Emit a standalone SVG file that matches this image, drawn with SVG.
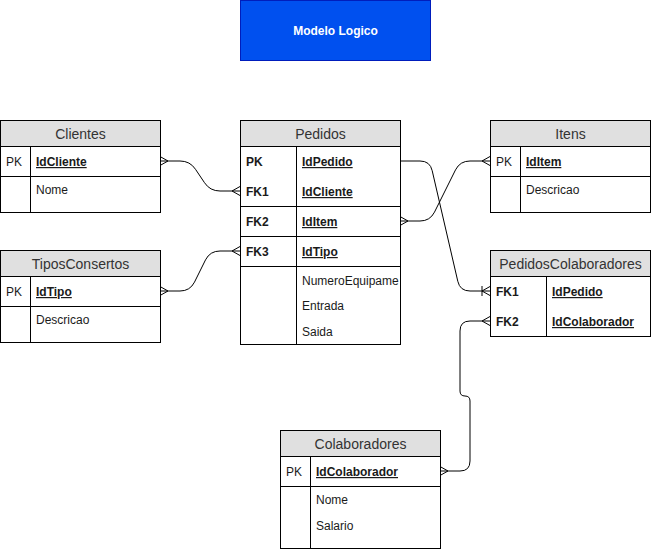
<svg xmlns="http://www.w3.org/2000/svg" width="651" height="549" viewBox="0 0 651 549">
<style>
.box{fill:#ffffff;stroke:#000000;stroke-width:1}
.hdr{fill:#e0e0e0;stroke:#000000;stroke-width:1}
.ln{stroke:#000000;stroke-width:1;fill:none}
.ht{font-family:"Liberation Sans",Arial,Helvetica,sans-serif;font-size:14px;fill:#333333;text-anchor:middle}
.t{font-family:"Liberation Sans",Arial,Helvetica,sans-serif;font-size:12px;fill:#1a1a1a}
.b{font-weight:bold}
.u{font-weight:bold;text-decoration:underline}
.edge{stroke:#000000;stroke-width:1;fill:none}
</style>
<defs>
<marker id="many" viewBox="-10 -10 20 20" markerWidth="20" markerHeight="20" refX="0" refY="0" markerUnits="userSpaceOnUse" orient="auto-start-reverse">
<path d="M0,-4.5 L-8,0 L0,4.5" fill="none" stroke="#000000" stroke-width="1"/>
</marker>
<marker id="oneMany" viewBox="-12 -10 24 20" markerWidth="24" markerHeight="20" refX="0" refY="0" markerUnits="userSpaceOnUse" orient="auto-start-reverse">
<path d="M0,-4.5 L-8,0 L0,4.5 M-8,-5 L-8,5" fill="none" stroke="#000000" stroke-width="1"/>
</marker>
<clipPath id="pedClip"><rect x="240" y="120" width="159.5" height="224"/></clipPath>
</defs>

<g id="titulo">
<rect x="240.5" y="0.5" width="190" height="60" fill="#0050ef" stroke="#001dbc"/>
<text x="335.5" y="35" font-family="'Liberation Sans',Arial,Helvetica,sans-serif" font-size="12" font-weight="bold" fill="#ffffff" text-anchor="middle">Modelo Logico</text>
</g>

<g id="connectors">
<path class="edge" d="M160,161 L180,161 Q190,161 195.5,169.3 L204.5,182.7 Q210,191 220,191 L240,191" marker-start="url(#many)" marker-end="url(#many)"/>
<path class="edge" d="M160,291 L180,291 Q190,291 194.5,282.1 L205.5,259.9 Q210,251 220,251 L240,251" marker-start="url(#many)" marker-end="url(#many)"/>
<path class="edge" d="M400,221 L420,221 Q430,221 434.5,212.1 L455.5,169.9 Q460,161 470,161 L490,161" marker-start="url(#many)" marker-end="url(#many)"/>
<path class="edge" d="M400,161 L420,161 Q430,161 432.2,170.7 L457.8,281.3 Q460,291 470,291 L490,291" marker-end="url(#oneMany)"/>
<path class="edge" d="M440,471 L460,471 Q470,471 470,461 L470,401 Q470,396 465,396 Q460,396 460,391 L460,331 Q460,321 470,321 L490,321" marker-start="url(#many)" marker-end="url(#many)"/>
</g>

<g id="clientes">
<rect class="box" x="0.5" y="120.5" width="160" height="92"/>
<rect class="hdr" x="0.5" y="120.5" width="160" height="26"/>
<text class="ht" x="80.5" y="138.5">Clientes</text>
<line class="ln" x1="30.5" y1="146.5" x2="30.5" y2="212.5"/>
<line class="ln" x1="0.5" y1="176.5" x2="160.5" y2="176.5"/>
<text class="t" x="6" y="166">PK</text>
<text class="t u" x="36" y="166">IdCliente</text>
<text class="t" x="36" y="194">Nome</text>
</g>

<g id="tiposconsertos">
<rect class="box" x="0.5" y="250.5" width="160" height="92"/>
<rect class="hdr" x="0.5" y="250.5" width="160" height="26"/>
<text class="ht" x="80.5" y="268.5">TiposConsertos</text>
<line class="ln" x1="30.5" y1="276.5" x2="30.5" y2="342.5"/>
<line class="ln" x1="0.5" y1="306.5" x2="160.5" y2="306.5"/>
<text class="t" x="6" y="296">PK</text>
<text class="t u" x="36" y="296">IdTipo</text>
<text class="t" x="36" y="324">Descricao</text>
</g>

<g id="pedidos">
<rect class="box" x="240.5" y="120.5" width="160" height="224"/>
<rect class="hdr" x="240.5" y="120.5" width="160" height="26"/>
<text class="ht" x="320.5" y="138.5">Pedidos</text>
<line class="ln" x1="296.5" y1="146.5" x2="296.5" y2="344.5"/>
<line class="ln" x1="240.5" y1="206.5" x2="400.5" y2="206.5"/>
<line class="ln" x1="240.5" y1="236.5" x2="400.5" y2="236.5"/>
<line class="ln" x1="240.5" y1="266.5" x2="400.5" y2="266.5"/>
<text class="t b" x="246" y="166">PK</text>
<text class="t u" x="302" y="166">IdPedido</text>
<text class="t b" x="246" y="196">FK1</text>
<text class="t u" x="302" y="196">IdCliente</text>
<text class="t b" x="246" y="226">FK2</text>
<text class="t u" x="302" y="226">IdItem</text>
<text class="t b" x="246" y="256">FK3</text>
<text class="t u" x="302" y="256">IdTipo</text>
<text class="t" x="302" y="285" clip-path="url(#pedClip)">NumeroEquipame</text>
<text class="t" x="302" y="310">Entrada</text>
<text class="t" x="302" y="336">Saida</text>
</g>

<g id="itens">
<rect class="box" x="490.5" y="120.5" width="160" height="92"/>
<rect class="hdr" x="490.5" y="120.5" width="160" height="26"/>
<text class="ht" x="570.5" y="138.5">Itens</text>
<line class="ln" x1="520.5" y1="146.5" x2="520.5" y2="212.5"/>
<line class="ln" x1="490.5" y1="176.5" x2="650.5" y2="176.5"/>
<text class="t" x="496" y="166">PK</text>
<text class="t u" x="526" y="166">IdItem</text>
<text class="t" x="526" y="194">Descricao</text>
</g>

<g id="pedidoscolaboradores">
<rect class="box" x="490.5" y="250.5" width="160" height="86"/>
<rect class="hdr" x="490.5" y="250.5" width="160" height="26"/>
<text class="ht" x="570.5" y="268.5">PedidosColaboradores</text>
<line class="ln" x1="546.5" y1="276.5" x2="546.5" y2="336.5"/>
<text class="t b" x="496" y="296">FK1</text>
<text class="t u" x="552" y="296">IdPedido</text>
<text class="t b" x="496" y="326">FK2</text>
<text class="t u" x="552" y="326">IdColaborador</text>
</g>

<g id="colaboradores">
<rect class="box" x="280.5" y="430.5" width="160" height="118"/>
<rect class="hdr" x="280.5" y="430.5" width="160" height="26"/>
<text class="ht" x="360.5" y="448.5">Colaboradores</text>
<line class="ln" x1="310.5" y1="456.5" x2="310.5" y2="548.5"/>
<line class="ln" x1="280.5" y1="486.5" x2="440.5" y2="486.5"/>
<text class="t" x="286" y="476">PK</text>
<text class="t u" x="316" y="476">IdColaborador</text>
<text class="t" x="316" y="504">Nome</text>
<text class="t" x="316" y="530">Salario</text>
</g>
</svg>
